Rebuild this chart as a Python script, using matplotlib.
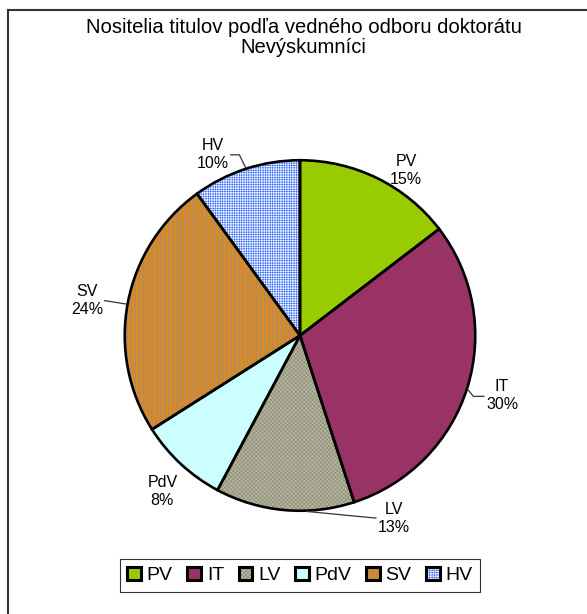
"""
Nositelia titulov podla vedneho odboru doktoratu - Nevyskumnici (pie chart)
"""

import numpy as np
import matplotlib
matplotlib.use('Agg')
import matplotlib.pyplot as plt
from matplotlib.lines import Line2D

# Data
categories = ['PV', 'IT', 'LV', 'PdV', 'SV', 'HV']
shares = [14.6, 30.4, 12.8, 8.2, 24.0, 10.0]

# Styles
face_colors = ['#99CC00', '#993366', '#B6B6A0', '#CCFFFF', '#D68A28', '#FFFFFF']
hatch_colors = [None, None, '#8E8E78', None, '#8C8C9C', '#4477FF']
hatches = [None, None, 'xxxxxxxx', None, '||||', '+++++++']

# label positions (data units, radius = 1) and leader lines
label_pos = [(0.605, 0.941), (1.153, -0.342), (0.537, -1.042),
             (-0.785, -0.893), (-1.215, 0.201), (-0.497, 1.031)]
leaders = [None,
           [(0.957, -0.307), (0.989, -0.347), (1.049, -0.347)],
           [(0.038, -1.004), (0.433, -1.042)],
           None,
           [(-0.989, 0.179), (-1.115, 0.199)],
           [(-0.311, 0.959), (-0.346, 1.031), (-0.395, 1.031)]]


def main():
    plt.rcParams['font.family'] = ['Liberation Sans', 'DejaVu Sans']
    plt.rcParams['hatch.linewidth'] = 0.45
    fig = plt.figure(figsize=(5.87, 6.14), dpi=100)

    # frame lines (top + left)
    fig.add_artist(Line2D([7.5 / 587, 1.0], [1 - 9.5 / 614] * 2,
                          transform=fig.transFigure, color='#333333', lw=1.5))
    fig.add_artist(Line2D([7.5 / 587] * 2, [0.0, 1 - 9.5 / 614],
                          transform=fig.transFigure, color='#333333', lw=1.5))

    fig.text(303.5 / 587, 1 - 27.5 / 614, 'Nositelia titulov podľa vedného odboru doktorátu',
             ha='center', va='center', fontsize=14.6)
    fig.text(303.5 / 587, 1 - 47.5 / 614, 'Nevýskumníci', ha='center', va='center',
             fontsize=14.6)

    cx, cy, r = 300 / 587, 1 - 335.5 / 614, 177
    w, h = 2 * r / 587, 2 * r / 614
    ax = fig.add_axes([cx - w / 2, cy - h / 2, w, h])

    # base layer with hatches (hatch color = edge color)
    base, _ = ax.pie(shares, startangle=90, counterclock=False, radius=1.0,
                     colors=face_colors, wedgeprops=dict(linewidth=0))
    for wdg, hc, ht in zip(base, hatch_colors, hatches):
        if ht:
            wdg.set_hatch(ht)
            wdg.set_edgecolor(hc)
            wdg.set_linewidth(0)
    # outline layer
    ax.pie(shares, startangle=90, counterclock=False, radius=1.0,
           colors=['none'] * len(shares),
           wedgeprops=dict(linewidth=1.9, edgecolor='black', fill=False))

    ax.set_xlim(-1.01, 1.01)
    ax.set_ylim(-1.01, 1.01)
    ax.set_aspect('equal')
    ax.axis('off')

    total = sum(shares)
    for cat, val, pos, ld in zip(categories, shares, label_pos, leaders):
        ax.text(pos[0], pos[1], '%s\n%d%%' % (cat, round(val / total * 100)),
                ha='center', va='center', fontsize=11.5, linespacing=1.25)
        if ld:
            xs, ys = zip(*ld)
            ax.plot(xs, ys, color='#333333', lw=0.9, clip_on=False)

    # legend
    handles = []
    for fc, hc, ht in zip(face_colors, hatch_colors, hatches):
        fill = plt.Rectangle((0, 0), 1, 1, facecolor=fc, edgecolor=hc or fc,
                             hatch=ht, lw=0)
        edge = plt.Rectangle((0, 0), 1, 1, fill=False, edgecolor='black', lw=2.2)
        handles.append((fill, edge))
    leg = fig.legend(handles, categories, loc='center', ncol=6,
                     bbox_to_anchor=(300 / 587, 1 - 575.5 / 614), fontsize=14,
                     frameon=True, fancybox=False, edgecolor='black',
                     handlelength=0.7, handleheight=0.7, handletextpad=0.3,
                     columnspacing=0.75, borderpad=0.4, borderaxespad=0)
    leg.get_frame().set_linewidth(0.8)

    fig.savefig('out.png', dpi=100)


if __name__ == '__main__':
    main()
